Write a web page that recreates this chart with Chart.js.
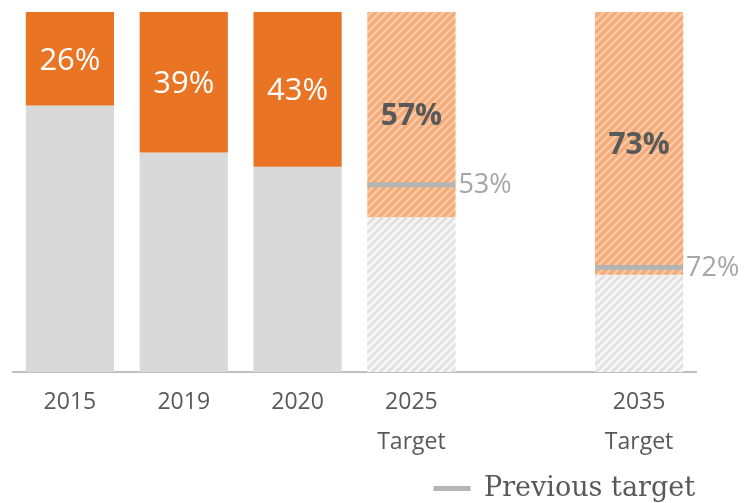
<!doctype html>
<html>

<head>
  <title>Share of target chart</title>
  <script src="https://cdn.jsdelivr.net/npm/chart.js@4.4.1/dist/chart.umd.min.js"></script>
  <style>
    html, body {
      margin: 0;
      padding: 0;
      background: #fff;
    }
    .chart {
      width: 746px;
      height: 503px;
    }
  </style>
</head>

<body>
  <div class="chart">
    <canvas id="myChart"></canvas>
  </div>

  <script>
    var categories = [['2015'], ['2019'], ['2020'], ['2025', 'Target'], '', ['2035', 'Target']];
    var shareValues = [26, 39, 43, 57, null, 73];
    var restValues = [74, 61, 57, 43, null, 27];
    var isTarget = [false, false, false, true, false, true];
    // previous target: where the marker sits in the picture, and its label
    var prevTargetLevels = [null, null, null, 48, null, 71];
    var prevTargetLabels = [null, null, null, '53%', null, '72%'];

    var orange = '#e87424';
    var grey = '#d9d9d9';

    function makeHatch(bg, fg) {
      var c = document.createElement('canvas');
      c.width = 8;
      c.height = 8;
      var g = c.getContext('2d');
      g.fillStyle = bg;
      g.fillRect(0, 0, 8, 8);
      g.strokeStyle = fg;
      g.lineWidth = 2.5;
      g.beginPath();
      g.moveTo(-2, 10); g.lineTo(10, -2);
      g.moveTo(-6, 6); g.lineTo(6, -6);
      g.moveTo(2, 14); g.lineTo(14, 2);
      g.stroke();
      return g.createPattern(c, 'repeat');
    }

    var orangeHatch = makeHatch('#f3aa78', '#f8c9a4');
    var greyHatch = makeHatch('#f5f5f5', '#e0e0e0');

    var barLabels = {
      id: 'barLabels',
      afterDatasetsDraw: function(chart) {
        var ctx = chart.ctx;
        ctx.save();
        ctx.textBaseline = 'middle';
        chart.getDatasetMeta(0).data.forEach(function(el, i) {
          if (shareValues[i] == null) return;
          ctx.textAlign = 'center';
          if (isTarget[i]) {
            ctx.font = 'bold 30px "Open Sans"';
            ctx.fillStyle = '#595959';
          } else {
            ctx.font = '31px "Open Sans"';
            ctx.fillStyle = '#ffffff';
          }
          ctx.fillText(shareValues[i] + '%', el.x, (el.y + el.base) / 2 + 2);
        });
        chart.getDatasetMeta(2).data.forEach(function(el, i) {
          if (prevTargetLabels[i] == null) return;
          ctx.textAlign = 'left';
          ctx.font = '27px "Open Sans"';
          ctx.fillStyle = '#a6a6a6';
          ctx.fillText(prevTargetLabels[i], el.x + 47, el.y + 1);
        });
        ctx.restore();
      }
    };

    var config = {
      type: 'bar',
      data: {
        labels: categories,
        datasets: [{
          label: 'Share',
          data: shareValues,
          backgroundColor: isTarget.map(function(t) { return t ? orangeHatch : orange; }),
          stack: 'bars',
          order: 1
        }, {
          label: 'Rest',
          data: restValues,
          backgroundColor: isTarget.map(function(t) { return t ? greyHatch : grey; }),
          stack: 'bars',
          order: 1
        }, {
          type: 'line',
          label: 'Previous target',
          data: prevTargetLevels,
          stack: 'prev',
          order: 0,
          showLine: false,
          pointStyle: 'line',
          pointRadius: 44,
          pointHoverRadius: 44,
          borderColor: '#b4b4b4',
          borderWidth: 5,
          pointBorderWidth: 5,
          backgroundColor: '#b4b4b4'
        }]
      },
      options: {
        responsive: true,
        maintainAspectRatio: false,
        animation: false,
        layout: {
          autoPadding: false,
          padding: { top: 12, left: 13, right: 50, bottom: -9 }
        },
        datasets: {
          bar: {
            categoryPercentage: 1,
            barPercentage: 0.775
          }
        },
        scales: {
          x: {
            stacked: true,
            grid: { display: false, drawTicks: false },
            border: { display: true, color: '#bfbfbf', width: 2 },
            ticks: {
              color: '#595959',
              padding: 10,
              maxRotation: 0,
              font: { family: '"Open Sans"', size: 23, lineHeight: 1.75 }
            },
            afterFit: function(scale) {
              scale.height = 102;
            }
          },
          y: {
            display: false,
            stacked: true,
            reverse: true,
            min: 0,
            max: 100
          }
        },
        plugins: {
          tooltip: { enabled: false },
          legend: {
            position: 'bottom',
            align: 'end',
            labels: {
              filter: function(item) { return item.datasetIndex === 2; },
              usePointStyle: true,
              pointStyleWidth: 37,
              padding: 1,
              color: '#595959',
              font: { family: '"DejaVu Serif"', size: 27, lineHeight: 1 }
            }
          }
        }
      },
      plugins: [barLabels]
    };

    var ctx = document.getElementById('myChart').getContext('2d');
    window.myChart = new Chart(ctx, config);
  </script>
</body>

</html>
